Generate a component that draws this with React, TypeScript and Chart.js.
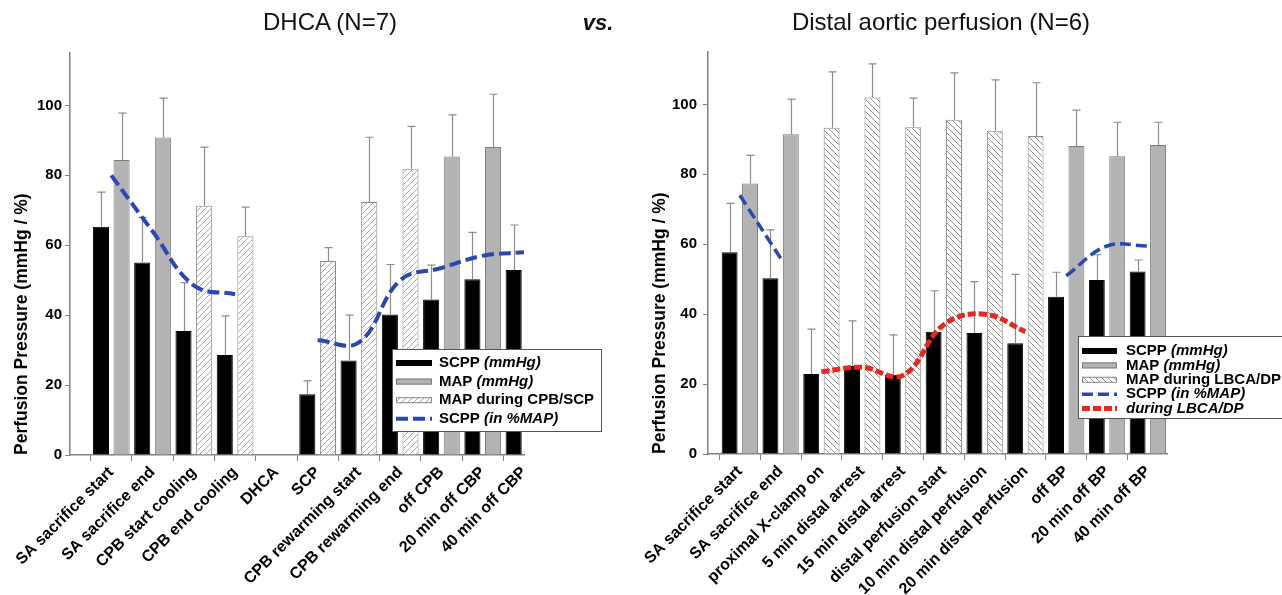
import { useEffect, useRef } from 'react';
import { Chart, registerables } from 'chart.js';

Chart.register(...registerables);

const FONT = "'Liberation Sans', Arial, Helvetica, sans-serif";

// ---------------- data: left panel (DHCA) ----------------
const leftCategories = [
  'SA sacrifice start', 'SA sacrifice end', 'CPB start cooling', 'CPB end cooling', 'DHCA', 'SCP',
  'CPB rewarming start', 'CPB rewarming end', 'off CPB', '20 min off CBP', '40 min off CBP',
];
const leftScpp = [65.3, 55.1, 35.5, 28.6, null, 17.4, 27.0, 40.2, 44.5, 50.3, 52.9];
const leftScppUpper = [75.2, 68.0, 49.3, 39.8, null, 21.2, 40.0, 54.5, 54.3, 63.7, 65.8];
const leftMap = [84.4, 90.8, 71.3, 62.6, null, 55.5, 72.4, 81.9, 85.4, 88.1, null];
const leftMapUpper = [97.8, 102.1, 88.1, 70.9, null, 59.3, 90.9, 94.0, 97.3, 103.2, null];
const leftMapDuringBypass = [false, false, true, true, false, true, true, true, false, false, false];
const leftScppPct = [80, 64, 48.5, 46, null, 32.8, 32.2, 50, 53.5, 57, 58];
const leftLegendLabels: [string, string][] = [
  ['SCPP ', '(mmHg)'],
  ['MAP ', '(mmHg)'],
  ['MAP during CPB/SCP', ''],
  ['SCPP ', '(in %MAP)'],
];

// ---------------- data: right panel (Distal aortic perfusion) ----------------
const rightCategories = [
  'SA sacrifice start', 'SA sacrifice end', 'proximal X-clamp on', '5 min distal arrest', '15 min distal arrest',
  'distal perfusion start', '10 min distal perfusion', '20 min distal perfusion', 'off BP', '20 min off BP', '40 min off BP',
];
const rightScpp = [57.7, 50.3, 22.9, 25.2, 22.7, 35.0, 34.6, 31.7, 45.0, 49.8, 52.2];
const rightScppUpper = [71.7, 64.1, 35.7, 38.1, 34.1, 46.7, 49.3, 51.4, 52.0, 57.0, 55.5];
const rightMap = [77.4, 91.5, 93.3, 102.0, 93.5, 95.6, 92.5, 91.0, 88.1, 85.2, 88.4];
const rightMapUpper = [85.4, 101.5, 109.3, 111.6, 101.8, 109.0, 107.0, 106.2, 98.4, 94.9, 94.9];
const rightMapDuringDp = [false, false, true, true, true, true, true, true, false, false, false];
const rightScppPct = [74, 56, null, null, null, null, null, null, 51, 59.5, 59.5];
const rightScppPctDp = [null, null, 23.5, 24.8, 22.5, 37, 40, 35, null, null, null];
const rightLegendLabels: [string, string][] = [
  ['SCPP ', '(mmHg)'],
  ['MAP ', '(mmHg)'],
  ['MAP during LBCA/DP', ''],
  ['SCPP ', '(in %MAP)'],
  ['', 'during LBCA/DP'],
];

const yTicks = [0, 20, 40, 60, 80, 100];
const yTitle = 'Perfusion Pressure (mmHg / %)';

// ---------------- styles ----------------
const GRAY_FILL = '#b3b3b3';
const GRAY_BORDER = '#7d7d7d';
const HATCH_BORDER = '#8a8a8a';
const AXIS = '#808080';
const ERR = '#8c8c8c';
const BLUE = '#2a48b0';
const RED = '#e42a20';

function makeHatch(ctx: CanvasRenderingContext2D, dir: string, color: string) {
  const s = 6;
  const c = document.createElement('canvas');
  c.width = s; c.height = s;
  const g = c.getContext('2d')!;
  g.fillStyle = '#fff';
  g.fillRect(0, 0, s, s);
  g.strokeStyle = color;
  g.lineWidth = 1;
  g.beginPath();
  if (dir === '/') {
    g.moveTo(0, s); g.lineTo(s, 0);
    g.moveTo(-1, 1); g.lineTo(1, -1);
    g.moveTo(s - 1, s + 1); g.lineTo(s + 1, s - 1);
  } else {
    g.moveTo(0, 0); g.lineTo(s, s);
    g.moveTo(-1, s - 1); g.lineTo(1, s + 1);
    g.moveTo(s - 1, -1); g.lineTo(s + 1, 1);
  }
  g.stroke();
  return ctx.createPattern(c, 'repeat')!;
}

const errorBarPlugin = {
  id: 'errorBars',
  afterDatasetDraw(chart: any, args: any) {
    const ds = chart.data.datasets[args.index];
    const upper = ds.errorUpper as (number | null)[] | undefined;
    if (!upper) return;
    const { ctx } = chart;
    const y = chart.scales.y;
    ctx.save();
    ctx.strokeStyle = ERR;
    ctx.lineWidth = 1.2;
    args.meta.data.forEach((el: any, i: number) => {
      const v = upper[i];
      if (v == null || ds.data[i] == null) return;
      const x = Math.round(el.x) + 0.5;
      const yE = y.getPixelForValue(v);
      ctx.beginPath();
      ctx.moveTo(x, el.y);
      ctx.lineTo(x, yE);
      ctx.moveTo(x - 4, yE);
      ctx.lineTo(x + 4, yE);
      ctx.stroke();
    });
    ctx.restore();
  },
};

const boxLegendPlugin = {
  id: 'boxLegend',
  afterDraw(chart: any, _a: any, o: any) {
    if (!o || !o.items) return;
    const { ctx, chartArea } = chart;
    const x0 = Math.round(chartArea.right + o.dx);
    const y0 = Math.round(chartArea.bottom + o.dy);
    ctx.save();
    ctx.fillStyle = '#fff';
    ctx.fillRect(x0, y0, o.width, o.height);
    ctx.strokeStyle = '#555';
    ctx.lineWidth = 1;
    ctx.strokeRect(x0 + 0.5, y0 + 0.5, o.width, o.height);
    o.items.forEach((it: any, i: number) => {
      const cy = y0 + o.firstRow + i * o.rowGap;
      const sx = x0 + o.sampleX;
      const sw = o.sampleW;
      if (it.kind === 'bar') {
        ctx.fillStyle = it.fill;
        ctx.fillRect(sx, cy - 3, sw, 6);
        ctx.strokeStyle = it.stroke;
        ctx.lineWidth = 1;
        ctx.strokeRect(sx + 0.5, cy - 2.5, sw - 1, 5);
      } else {
        ctx.strokeStyle = it.stroke;
        ctx.lineWidth = it.width;
        ctx.setLineDash(it.dash);
        ctx.beginPath();
        ctx.moveTo(sx, cy);
        ctx.lineTo(sx + sw, cy);
        ctx.stroke();
        ctx.setLineDash([]);
      }
      ctx.fillStyle = '#000';
      ctx.textBaseline = 'middle';
      ctx.textAlign = 'left';
      let tx = x0 + o.textX;
      ctx.font = `bold 15px ${FONT}`;
      if (it.text) {
        ctx.fillText(it.text, tx, cy);
        tx += ctx.measureText(it.text).width;
      }
      if (it.italic) {
        ctx.font = `italic bold 15px ${FONT}`;
        ctx.fillText(it.italic, tx, cy);
      }
    });
    ctx.restore();
  },
};

interface LineSpec { data: (number | null)[]; color: string; width: number; dash: number[] }
interface PanelSpec {
  categories: string[];
  scpp: (number | null)[];
  scppUpper: (number | null)[];
  map: (number | null)[];
  mapUpper: (number | null)[];
  special: boolean[];
  lines: LineSpec[];
  legendLabels: [string, string][];
  xMin: number;
  xMax: number;
  padding: { left: number; right: number; top: number; bottom: number };
  yWidth: number;
  xHeight: number;
  titlePad: number;
  tickPad: number;
  hatchDir: string;
  hatchColor: string;
  legend: any;
}

function createPanel(canvas: HTMLCanvasElement, p: PanelSpec) {
  const ctx = canvas.getContext('2d')!;
  const hatch = makeHatch(ctx, p.hatchDir, p.hatchColor);
  const mapFill = p.special.map((s) => (s ? hatch : GRAY_FILL));
  const mapBorder = p.special.map((s) => (s ? HATCH_BORDER : GRAY_BORDER));
  const idx = p.categories.map((_, i) => i);

  const legendItems = p.legendLabels.map(([text, italic], i) => {
    if (i === 0) return { kind: 'bar', fill: '#000', stroke: '#000', text, italic };
    if (i === 1) return { kind: 'bar', fill: GRAY_FILL, stroke: GRAY_BORDER, text, italic };
    if (i === 2) return { kind: 'bar', fill: hatch, stroke: HATCH_BORDER, text, italic };
    const l = p.lines[i - 3];
    return { kind: 'line', stroke: l.color, width: l.width, dash: l.dash, text, italic };
  });

  return new Chart(canvas, {
    type: 'bar',
    data: {
      labels: idx,
      datasets: [
        {
          type: 'bar',
          label: 'SCPP',
          data: p.scpp,
          errorUpper: p.scppUpper,
          backgroundColor: '#000',
          borderColor: '#000',
          borderWidth: 1,
          barPercentage: 0.78,
          categoryPercentage: 1,
          order: 1,
        } as any,
        {
          type: 'bar',
          label: 'MAP',
          data: p.map,
          errorUpper: p.mapUpper,
          backgroundColor: mapFill,
          borderColor: mapBorder,
          borderWidth: 1,
          barPercentage: 0.78,
          categoryPercentage: 1,
          order: 1,
        } as any,
        ...p.lines.map((l) => ({
          type: 'line' as const,
          label: 'line',
          data: l.data,
          borderColor: l.color,
          borderWidth: l.width,
          borderDash: l.dash,
          tension: 0.4,
          pointRadius: 0,
          spanGaps: false,
          fill: false,
          order: 0,
        })),
      ],
    },
    options: {
      animation: false,
      responsive: false,
      devicePixelRatio: 1,
      events: [],
      layout: { padding: p.padding },
      plugins: {
        legend: { display: false },
        tooltip: { enabled: false },
        boxLegend: { ...p.legend, items: legendItems },
      } as any,
      scales: {
        x: {
          type: 'linear',
          min: p.xMin,
          max: p.xMax,
          offset: false,
          afterBuildTicks: (s: any) => {
            s.ticks = p.categories.map((_, i) => ({ value: i }));
          },
          afterFit: (s: any) => {
            s.height = p.xHeight;
          },
          ticks: {
            autoSkip: false,
            maxRotation: 45,
            minRotation: 45,
            color: '#000',
            padding: 2,
            font: { family: FONT, size: 16, weight: 'bold' },
            callback: (v: any) => p.categories[Math.round(Number(v))] ?? '',
          },
          grid: { drawOnChartArea: false, drawTicks: true, tickLength: 6, color: AXIS, lineWidth: 1 },
          border: { display: true, color: AXIS, width: 1.5 },
        } as any,
        y: {
          min: 0,
          max: 115,
          afterBuildTicks: (s: any) => {
            s.ticks = yTicks.map((v) => ({ value: v }));
          },
          afterFit: (s: any) => {
            s.width = p.yWidth;
          },
          ticks: { color: '#000', padding: p.tickPad, font: { family: FONT, size: 15, weight: 'bold' } },
          grid: { drawOnChartArea: false, drawTicks: true, tickLength: 5, color: AXIS, lineWidth: 1 },
          border: { display: true, color: AXIS, width: 1.5 },
          title: {
            display: true,
            text: yTitle,
            align: 'start',
            color: '#000',
            font: { family: FONT, size: 17.5, weight: 'bold' },
            padding: { top: p.titlePad, bottom: 0 },
          },
        } as any,
      },
    },
    plugins: [errorBarPlugin, boxLegendPlugin],
  } as any);
}

export default function App() {
  const leftRef = useRef<HTMLCanvasElement>(null);
  const rightRef = useRef<HTMLCanvasElement>(null);

  useEffect(() => {
    const left = createPanel(leftRef.current!, {
      categories: leftCategories,
      scpp: leftScpp,
      scppUpper: leftScppUpper,
      map: leftMap,
      mapUpper: leftMapUpper,
      special: leftMapDuringBypass,
      lines: [{ data: leftScppPct, color: BLUE, width: 4, dash: [12, 5] }],
      legendLabels: leftLegendLabels,
      xMin: -1,
      xMax: 10,
      padding: { left: 0, right: 116, top: 53, bottom: 0 },
      yWidth: 70,
      xHeight: 140,
      titlePad: 12,
      tickPad: 3,
      hatchDir: '/',
      hatchColor: '#a6a6a6',
      legend: { dx: -132, dy: -106, width: 209, height: 82, firstRow: 14, rowGap: 18.6, sampleX: 4, sampleW: 36, textX: 47 },
    });
    const right = createPanel(rightRef.current!, {
      categories: rightCategories,
      scpp: rightScpp,
      scppUpper: rightScppUpper,
      map: rightMap,
      mapUpper: rightMapUpper,
      special: rightMapDuringDp,
      lines: [
        { data: rightScppPct, color: BLUE, width: 3.5, dash: [11, 5] },
        { data: rightScppPctDp, color: RED, width: 5, dash: [8, 3] },
      ],
      legendLabels: rightLegendLabels,
      xMin: -0.78,
      xMax: 10.47,
      padding: { left: 0, right: 115, top: 52, bottom: 0 },
      yWidth: 68,
      xHeight: 141,
      titlePad: 10,
      tickPad: 6,
      hatchDir: '\\',
      hatchColor: '#8e8e8e',
      legend: { dx: -89, dy: -118, width: 230, height: 82, firstRow: 15, rowGap: 14.4, sampleX: 4, sampleW: 35, textX: 48 },
    });
    return () => {
      left.destroy();
      right.destroy();
    };
  }, []);

  return (
    <div style={{ position: 'fixed', left: 0, top: 0, width: 1282, height: 595, background: '#fff', fontFamily: FONT, overflow: 'hidden' }}>
      <canvas ref={leftRef} width={640} height={595} style={{ position: 'absolute', left: 0, top: 0, width: 640, height: 595 }} />
      <canvas ref={rightRef} width={642} height={595} style={{ position: 'absolute', left: 640, top: 0, width: 642, height: 595 }} />
      <div style={{ position: 'absolute', left: 180, width: 300, top: 8, textAlign: 'center', fontSize: 24, lineHeight: '28px', color: '#111' }}>
        DHCA (N=7)
      </div>
      <div style={{ position: 'absolute', left: 548, width: 100, top: 10, textAlign: 'center', fontSize: 22, lineHeight: '26px', fontWeight: 'bold', fontStyle: 'italic', color: '#111' }}>
        vs.
      </div>
      <div style={{ position: 'absolute', left: 741, width: 400, top: 8, textAlign: 'center', fontSize: 24, lineHeight: '28px', color: '#111' }}>
        Distal aortic perfusion (N=6)
      </div>
    </div>
  );
}
